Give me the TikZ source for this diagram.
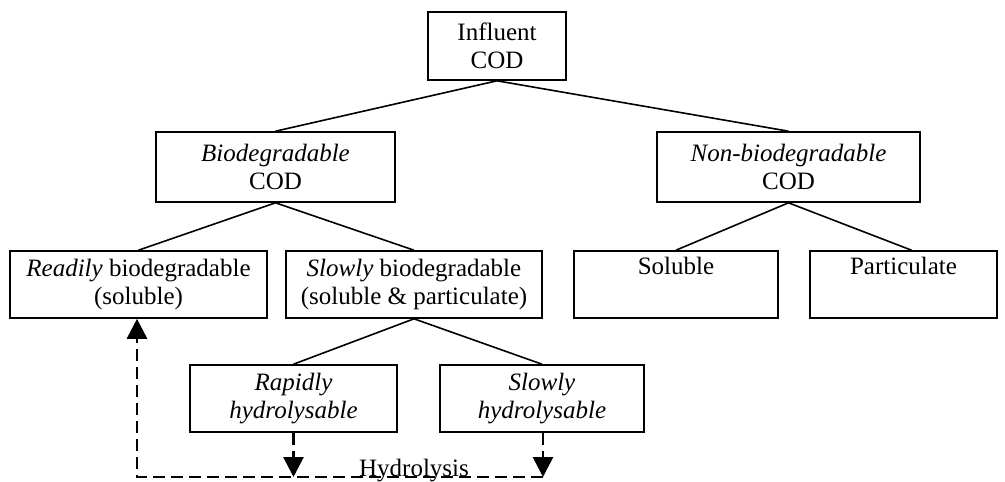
\documentclass[tikz,border=0pt]{standalone}
\usepackage{fontspec}
\setmainfont{Liberation Serif}
\usetikzlibrary{arrows.meta}
\begin{document}
\begin{tikzpicture}[x=1pt,y=-1pt,
  box/.style={draw,line width=1.6pt,align=center,inner sep=0pt,
    font=\fontsize{25}{28.5}\selectfont,minimum height=68pt},
  conn/.style={line width=1.6pt},
  flow/.style={line width=2.8pt,dash pattern=on 12pt off 6pt},
  tip/.style={-{Triangle[length=20pt,width=20pt]}}]
\useasboundingbox (0,0) rectangle (1005,482);
\node[box,minimum width=138pt] (inf) at (497,46) {Influent\\COD};
\node[box,minimum width=239pt,minimum height=70pt] (bio) at (275.5,167) {\textit{Biodegradable}\\COD};
\node[box,minimum width=263pt,minimum height=70pt] (nonbio) at (788.5,167) {\textit{Non-biodegradable}\\COD};
\node[box,minimum width=257pt,minimum height=67pt] (ready) at (138.5,284.5) {\textit{Readily} biodegradable\\(soluble)};
\node[box,minimum width=256pt,minimum height=67pt] (slowbio) at (414,284.5) {\textit{Slowly} biodegradable\\(soluble \& particulate)};
\node[box,minimum width=204pt,minimum height=67pt] (sol) at (676,284.5) {Soluble\\\strut};
\node[box,minimum width=187pt,minimum height=67pt] (part) at (903.5,284.5) {Particulate\\\strut};
\node[box,minimum width=207pt,minimum height=67pt] (rapid) at (293.5,398.5) {\textit{Rapidly}\\\textit{hydrolysable}};
\node[box,minimum width=204pt,minimum height=67pt] (slowhyd) at (542,398.5) {\textit{Slowly}\\\textit{hydrolysable}};
\draw[conn] (inf.south) -- (bio.north);
\draw[conn] (inf.south) -- (nonbio.north);
\draw[conn] (bio.south) -- (ready.north);
\draw[conn] (bio.south) -- (slowbio.north);
\draw[conn] (nonbio.south) -- (sol.north);
\draw[conn] (nonbio.south) -- ([xshift=8pt]part.north);
\draw[conn] (slowbio.south) -- (rapid.north);
\draw[conn] (slowbio.south) -- (slowhyd.north);
\coordinate (corner) at (137,477);
\coordinate (jr) at (rapid.south |- corner);
\coordinate (js) at ([xshift=1pt]slowhyd.south |- corner);
\coordinate (up) at (corner |- ready.south);
\node[font=\fontsize{25}{28}\selectfont,anchor=base,inner sep=0pt] (hyd) at (414,476) {Hydrolysis};
\draw[flow,tip] (js) -- (corner) -- (up);
\draw[flow,tip] (rapid.south) -- (jr);
\draw[flow,tip] ([xshift=1pt]slowhyd.south) -- (js);
\end{tikzpicture}
\end{document}
